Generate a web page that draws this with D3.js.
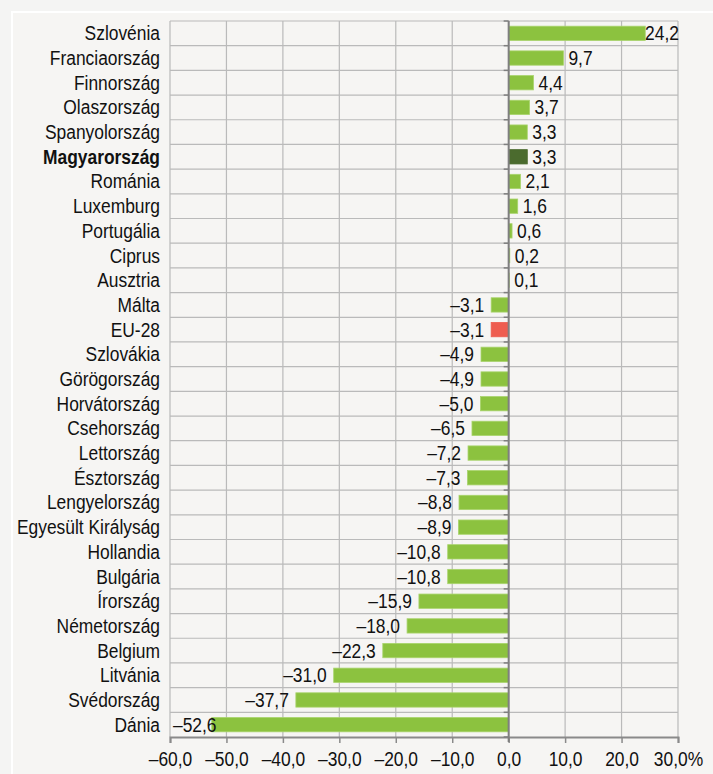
<!DOCTYPE html>
<html>
<head>
<meta charset="utf-8">
<script src="https://cdn.jsdelivr.net/npm/d3@7"></script>
<style>
  body { margin: 0; background: #f4f4f3; }
  svg text { font-family: "Liberation Sans Narrow", "Arial Narrow", "Liberation Sans", sans-serif; fill: #111; }
</style>
</head>
<body>
<svg id="chart" width="713" height="774"></svg>
<script>
(function () {
    var width = 713, height = 774;

    // data
    const countries = ["Szlovénia", "Franciaország", "Finnország", "Olaszország", "Spanyolország",
        "Magyarország", "Románia", "Luxemburg", "Portugália", "Ciprus", "Ausztria", "Málta", "EU-28",
        "Szlovákia", "Görögország", "Horvátország", "Csehország", "Lettország", "Észtország",
        "Lengyelország", "Egyesült Királyság", "Hollandia", "Bulgária", "Írország", "Németország",
        "Belgium", "Litvánia", "Svédország", "Dánia"];
    const values = [24.2, 9.7, 4.4, 3.7, 3.3, 3.3, 2.1, 1.6, 0.6, 0.2, 0.1, -3.1, -3.1,
        -4.9, -4.9, -5.0, -6.5, -7.2, -7.3, -8.8, -8.9, -10.8, -10.8, -15.9, -18.0,
        -22.3, -31.0, -37.7, -52.6];
    const xTicks = [-60, -50, -40, -30, -20, -10, 0, 10, 20, 30];

    const data = countries.map((c, i) => ({ name: c, value: values[i] }));

    const margin = { left: 170, right: 35, top: 21, bottom: 37 };
    const fs = 20, sx = 0.87; // font size, horizontal squeeze (narrow look)
    const svg = d3.select("#chart");

    // white frame line
    svg.append("rect").attr("x", 12).attr("y", 12).attr("width", 760).attr("height", 800)
        .attr("fill", "#f6f5f3").attr("stroke", "#ffffff").attr("stroke-width", 2);

    const x = d3.scaleLinear().domain([-60, 30]).range([margin.left, width - margin.right]);
    const y = d3.scaleBand().domain(countries).range([margin.top, height - margin.bottom]).padding(0);
    const bw = y.bandwidth();
    const barH = bw * 0.58;

    const fmt = (v) => (v < 0 ? "–" : "") + d3.format(".1f")(Math.abs(v)).replace(".", ",");

    const g = svg.append("g");

    // grid
    g.selectAll("line.vgrid").data(xTicks).join("line")
        .attr("x1", (d) => x(d)).attr("x2", (d) => x(d))
        .attr("y1", margin.top).attr("y2", height - margin.bottom)
        .attr("stroke", "#bababa").attr("stroke-width", 1.2);
    g.selectAll("line.hgrid").data(countries).join("line")
        .attr("x1", x(-60)).attr("x2", x(30))
        .attr("y1", (d) => y(d)).attr("y2", (d) => y(d))
        .attr("stroke", "#bababa").attr("stroke-width", 1.2);

    // bars
    g.selectAll("rect.bar").data(data).join("rect")
        .attr("x", (d) => x(Math.min(0, d.value)))
        .attr("y", (d) => y(d.name) + (bw - barH) / 2)
        .attr("width", (d) => Math.abs(x(d.value) - x(0)))
        .attr("height", barH)
        .attr("fill", (d) => d.name === "Magyarország" ? "#4b6b2e" : d.name === "EU-28" ? "#ee5d50" : "#8cc23f")
        .attr("stroke", (d) => d.name === "Magyarország" ? "#4b6b2e" : d.name === "EU-28" ? "#ee5d50" : "#a9d46c")
        .attr("stroke-width", 0.8);

    // bottom axis
    const xAxis = g.append("g").attr("transform", `translate(0,${height - margin.bottom})`)
        .call(d3.axisBottom(x).tickValues(xTicks).tickSize(6).tickPadding(9)
            .tickFormat((d) => fmt(d) + (d === 30 ? "%" : "")));
    xAxis.select(".domain").attr("stroke", "#8a8a8a").attr("stroke-width", 2);
    xAxis.selectAll(".tick line").attr("stroke", "#8a8a8a").attr("stroke-width", 1.5);
    xAxis.selectAll(".tick text").attr("font-size", fs).attr("fill", "#111")
        .attr("transform", `scale(${sx},1)`);

    // zero axis with small ticks at category boundaries
    const zeroAxis = g.append("g").attr("transform", `translate(${x(0)},0)`);
    zeroAxis.selectAll("line").data(countries.concat(["_end"])).join("line")
        .attr("x1", -5).attr("x2", 0)
        .attr("y1", (d) => d === "_end" ? height - margin.bottom : y(d))
        .attr("y2", (d) => d === "_end" ? height - margin.bottom : y(d))
        .attr("stroke", "#7f7f7f").attr("stroke-width", 1.5);
    zeroAxis.append("line").attr("y1", margin.top).attr("y2", height - margin.bottom + 5)
        .attr("stroke", "#7f7f7f").attr("stroke-width", 2);

    // category labels
    g.selectAll("text.cat").data(data).join("text")
        .attr("transform", (d) => `translate(${margin.left - 10},${y(d.name) + bw / 2}) scale(${sx},1)`)
        .attr("dy", "0.35em")
        .attr("text-anchor", "end")
        .attr("font-size", fs)
        .attr("font-weight", (d) => d.name === "Magyarország" ? "bold" : "normal")
        .text((d) => d.name);

    // value labels
    const vl = g.selectAll("text.val").data(data).join("text")
        .attr("dy", "0.35em")
        .attr("font-size", fs)
        .text((d) => fmt(d.value));
    vl.each(function (d) {
        const t = d3.select(this);
        const w = this.getComputedTextLength() * sx;
        let xs;
        if (d.value >= 0) {
            xs = x(d.value) + 5;
            if (xs + w > x(30) + 1) xs = x(30) + 1 - w;
        } else {
            xs = x(d.value) - 7 - w;
            if (xs < x(-60) + 3) xs = x(-60) + 3;
        }
        t.attr("transform", `translate(${xs},${y(d.name) + bw / 2}) scale(${sx},1)`);
    });
})();
</script>
</body>
</html>
